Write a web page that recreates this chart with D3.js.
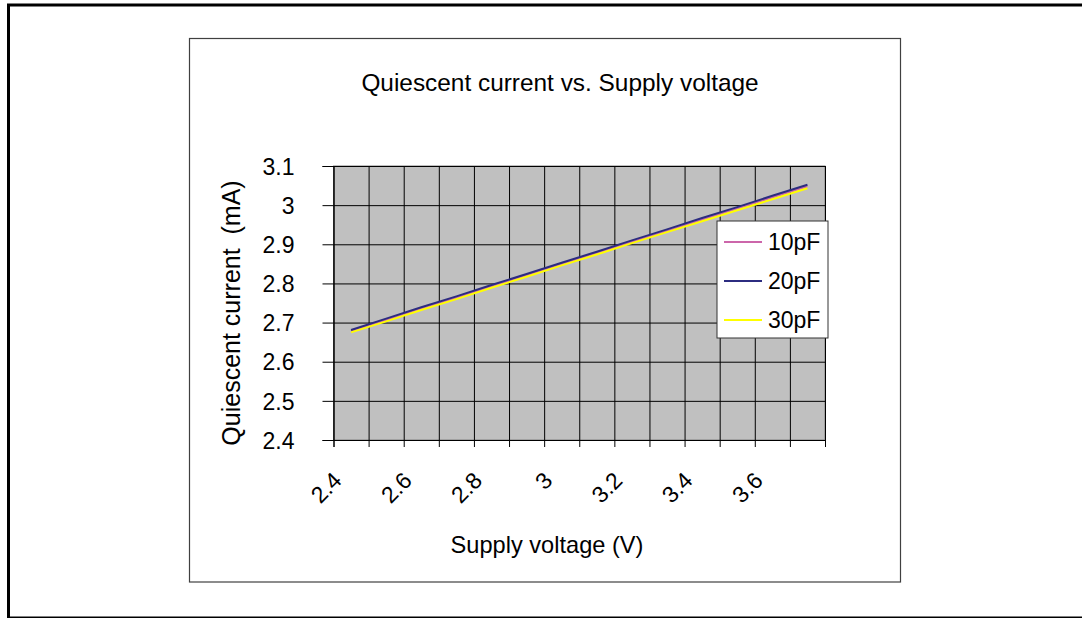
<!DOCTYPE html>
<html><head><meta charset="utf-8">
<script src="https://cdn.jsdelivr.net/npm/d3@7"></script>
<style>
body{margin:0;background:#fff}
svg{display:block}
text{font-family:"Liberation Sans",Arial,Helvetica,sans-serif;fill:#000}
</style>
</head><body>
<svg id="c" width="1082" height="618"></svg>
<script>
// ---- data ----
const categories = ["2.4","2.5","2.6","2.7","2.8","2.9","3","3.1","3.2","3.3","3.4","3.5","3.6","3.7"];
const xTickLabels = ["2.4","2.6","2.8","3","3.2","3.4","3.6"];
const yTicks = [2.4,2.5,2.6,2.7,2.8,2.9,3.0,3.1];
const series10pF = [2.678,2.707,2.735,2.764,2.792,2.821,2.849,2.878,2.906,2.934,2.963,2.991,3.020,3.048];
const series20pF = [2.681,2.710,2.739,2.767,2.796,2.824,2.853,2.881,2.910,2.938,2.967,2.995,3.024,3.052];
const series30pF = [2.675,2.703,2.732,2.760,2.789,2.817,2.846,2.874,2.903,2.931,2.959,2.987,3.015,3.043];
const seriesNames = ["10pF","20pF","30pF"];
const seriesColors = ["#cc66aa","#2c2c80","#ffff00"];
const chartTitle = "Quiescent current vs. Supply voltage";
const xTitle = "Supply voltage (V)";
const yTitle = "Quiescent current\u00a0\u00a0(mA)";

const seriesData = [series10pF, series20pF, series30pF];

const svg = d3.select("#c");
const FS = 23;

// outer frame
svg.append("rect").attr("x",8.5).attr("y",5).attr("width",1100).attr("height",613)
  .attr("fill","none").attr("stroke","#000").attr("stroke-width",3);
// chart frame
svg.append("rect").attr("x",189.5).attr("y",38.5).attr("width",711).attr("height",543.5)
  .attr("fill","#fff").attr("stroke","#404040").attr("stroke-width",1.2);

const L = 333.5, R = 825, T = 166, B = 440;
const x = d3.scaleBand().domain(categories).range([L,R]).padding(0);
const xb = d3.scaleLinear().domain([0,categories.length]).range([L,R]);
const y = d3.scaleLinear().domain([2.4,3.1]).range([B,T]);

// plot area
svg.append("rect").attr("x",L).attr("y",T).attr("width",R-L).attr("height",B-T)
  .attr("fill","#c0c0c0").attr("stroke","#808080").attr("stroke-width",1);

// horizontal grid
const gy = svg.append("g").attr("transform",`translate(${L},0)`)
  .call(d3.axisLeft(y).tickValues(yTicks).tickSize(-(R-L)).tickFormat(""));
gy.select(".domain").remove();
gy.selectAll("line").attr("stroke","#000").attr("stroke-width",1);

// vertical grid
const gx = svg.append("g").attr("transform",`translate(0,${B})`)
  .call(d3.axisBottom(xb).tickValues(d3.range(categories.length+1)).tickSize(-(B-T)).tickFormat(""));
gx.select(".domain").remove();
gx.selectAll("line").attr("stroke","#000").attr("stroke-width",1);

// y axis
const ya = svg.append("g").attr("transform",`translate(${L},0)`)
  .call(d3.axisLeft(y).tickValues(yTicks).tickSize(11).tickPadding(28).tickFormat(d3.format("")));
ya.select(".domain").attr("stroke","#000");
ya.selectAll("line").attr("stroke","#000");
ya.selectAll("text").attr("font-size",FS).attr("font-family","Liberation Sans, Arial, sans-serif").attr("dy","0.36em");

// x axis
const xa = svg.append("g").attr("transform",`translate(0,${B})`)
  .call(d3.axisBottom(xb).tickValues(d3.range(categories.length+1)).tickSize(7).tickFormat(""));
xa.select(".domain").attr("stroke","#000");
xa.selectAll("line").attr("stroke","#000");

svg.append("g").selectAll("text").data(categories.filter(c=>xTickLabels.includes(c)))
  .join("text")
  .attr("font-size",FS).attr("text-anchor","end")
  .attr("transform",c=>`translate(${x(c)+x.bandwidth()/2-8},${B+42}) rotate(-45)`)
  .text(c=>c);

// lines
const line = d3.line().x((d,i)=>x(categories[i])+x.bandwidth()/2).y(d=>y(d));
svg.append("g").selectAll("path").data(seriesData).join("path")
  .attr("d",d=>line(d)).attr("fill","none")
  .attr("stroke",(d,i)=>seriesColors[i]).attr("stroke-width",2);

// titles
svg.append("text").attr("x",560).attr("y",91).attr("text-anchor","middle").attr("font-size",24.4).text(chartTitle);
svg.append("text").attr("x",547).attr("y",553).attr("text-anchor","middle").attr("font-size",23.6).text(xTitle);
svg.append("text").attr("transform","translate(240,313) rotate(-90)").attr("text-anchor","middle").attr("font-size",25).text(yTitle);

// legend
const lg = svg.append("g");
lg.append("rect").attr("x",717).attr("y",221).attr("width",111).attr("height",117)
  .attr("fill","#fff").attr("stroke","#333").attr("stroke-width",1);
seriesNames.forEach((n,i)=>{
  const ly = 242 + i*39;
  lg.append("line").attr("x1",724).attr("x2",762).attr("y1",ly).attr("y2",ly)
    .attr("stroke",seriesColors[i]).attr("stroke-width",2);
  lg.append("text").attr("x",768).attr("y",ly+8).attr("font-size",FS).text(n);
});
</script>
</body></html>
